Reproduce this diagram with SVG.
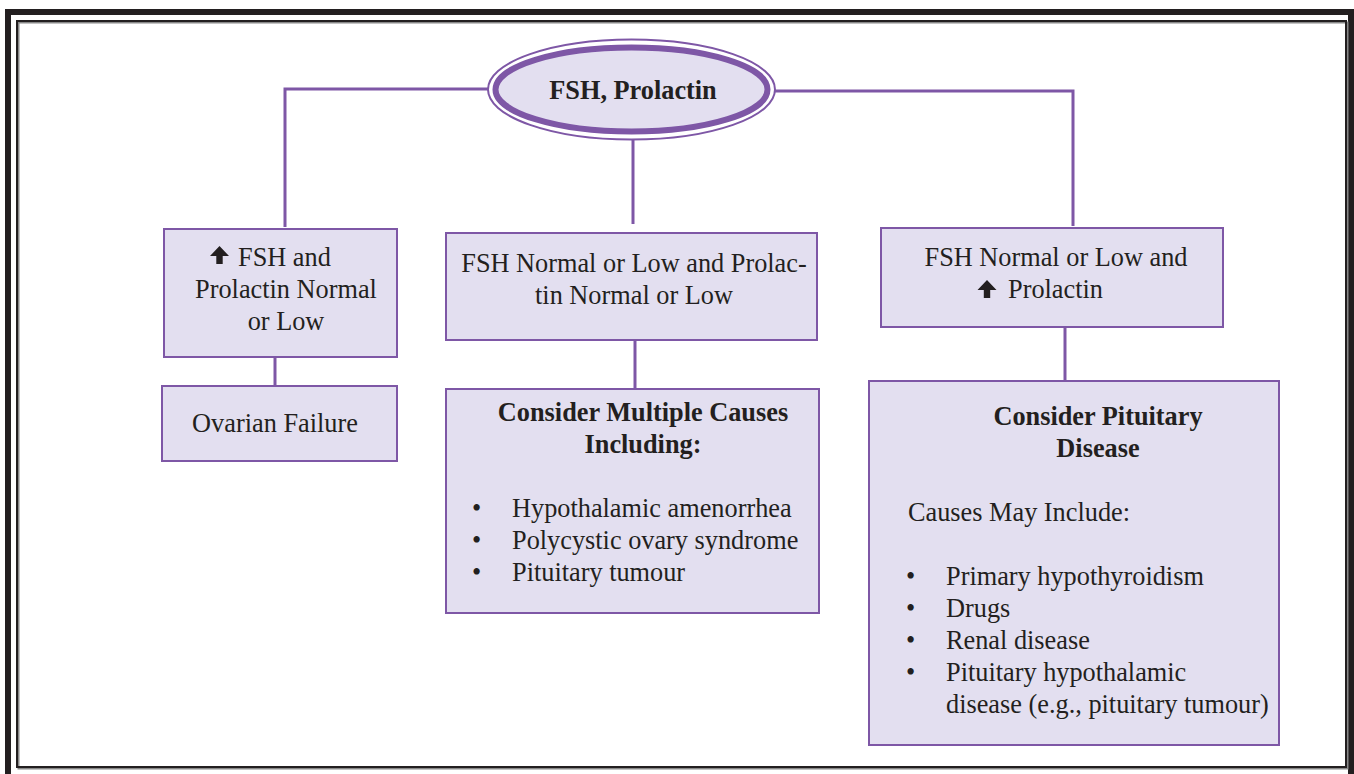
<svg xmlns="http://www.w3.org/2000/svg" width="1354" height="774" viewBox="0 0 1354 774">
<style>
.box{fill:#e3dff0;stroke:#7e57a6;stroke-width:2}
.ln{stroke:#7e57a6;stroke-width:3;fill:none}
.t{font-family:"Liberation Serif",serif;font-size:26.3px;fill:#231f20}
.b{font-weight:bold}
.c{text-anchor:middle}
.arw{fill:#231f20}
</style>
<defs>
<polygon id="up" points="0,-18 9.5,-8 3.2,-8 3.2,0 -3.2,0 -3.2,-8 -9.5,-8"/>
</defs>
<rect width="1354" height="774" fill="#fff"/>
<g id="frame">
<rect x="8" y="12" width="1343" height="770" fill="none" stroke="#231f20" stroke-width="6"/>
<rect x="18.5" y="22.5" width="1329" height="746" fill="none" stroke="#888" stroke-width="2"/>
<rect x="17" y="21" width="1329" height="746" fill="none" stroke="#231f20" stroke-width="2"/>
</g>
<g id="connectors">
<polyline class="ln" points="488,89 285,89 285,227"/>
<polyline class="ln" points="775,91 1073,91 1073,226"/>
<line class="ln" x1="633" y1="138" x2="633" y2="224"/>
<line class="ln" x1="275" y1="357" x2="275" y2="386"/>
<line class="ln" x1="635" y1="340" x2="635" y2="389"/>
<line class="ln" x1="1065" y1="327" x2="1065" y2="381"/>
</g>
<g id="root">
<ellipse cx="631.5" cy="89.5" rx="143.5" ry="50" fill="#fff" stroke="#7e57a6" stroke-width="2"/>
<ellipse cx="631.5" cy="89.5" rx="136" ry="42" fill="#e3dff0" stroke="#7e57a6" stroke-width="6"/>
<text class="t b c" x="633" y="99">FSH, Prolactin</text>
</g>
<g id="n1">
<rect class="box" x="164" y="229" width="233" height="128"/>
<use href="#up" class="arw" x="219.5" y="264"/>
<text class="t" x="238" y="266">FSH and</text>
<text class="t c" x="286" y="298">Prolactin Normal</text>
<text class="t c" x="286" y="330">or Low</text>
</g>
<g id="n2">
<rect class="box" x="162" y="386" width="235" height="75"/>
<text class="t c" x="275" y="432">Ovarian Failure</text>
</g>
<g id="n3">
<rect class="box" x="446" y="233" width="371" height="107"/>
<text class="t c" x="634" y="272">FSH Normal or Low and Prolac-</text>
<text class="t c" x="634" y="304">tin Normal or Low</text>
</g>
<g id="n4">
<rect class="box" x="446" y="389" width="373" height="224"/>
<text class="t b c" x="643" y="421">Consider Multiple Causes</text>
<text class="t b c" x="643" y="453">Including:</text>
<text class="t" x="472" y="517">•</text>
<text class="t" x="512" y="517">Hypothalamic amenorrhea</text>
<text class="t" x="472" y="549">•</text>
<text class="t" x="512" y="549">Polycystic ovary syndrome</text>
<text class="t" x="472" y="581">•</text>
<text class="t" x="512" y="581">Pituitary tumour</text>
</g>
<g id="n5">
<rect class="box" x="881" y="228" width="342" height="99"/>
<text class="t c" x="1056" y="266">FSH Normal or Low and</text>
<use href="#up" class="arw" x="987" y="298"/>
<text class="t" x="1008" y="298">Prolactin</text>
</g>
<g id="n6">
<rect class="box" x="869" y="381" width="410" height="364"/>
<text class="t b c" x="1098" y="425">Consider Pituitary</text>
<text class="t b c" x="1098" y="457">Disease</text>
<text class="t" x="908" y="521">Causes May Include:</text>
<text class="t" x="906" y="585">•</text>
<text class="t" x="946" y="585">Primary hypothyroidism</text>
<text class="t" x="906" y="617">•</text>
<text class="t" x="946" y="617">Drugs</text>
<text class="t" x="906" y="649">•</text>
<text class="t" x="946" y="649">Renal disease</text>
<text class="t" x="906" y="681">•</text>
<text class="t" x="946" y="681">Pituitary hypothalamic</text>
<text class="t" x="946" y="713">disease (e.g., pituitary tumour)</text>
</g>
</svg>
